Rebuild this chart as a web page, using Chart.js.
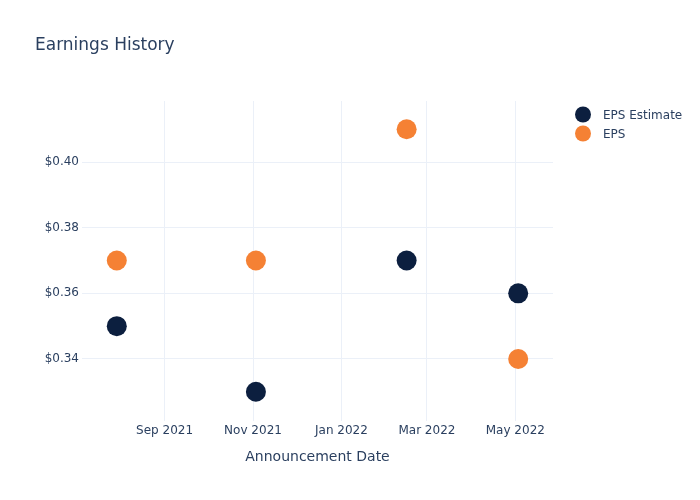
<!DOCTYPE html>
<html lang="en">
  <head>
    <meta charset="UTF-8" />
    <title>Earnings History</title>
    <script src="https://cdn.jsdelivr.net/npm/chart.js"></script>
    <style>
      body { margin: 0; background: #fff; }
      .wrap { position: relative; width: 700px; height: 500px; }
    </style>
  </head>
  <body>
    <div class="wrap"><canvas id="myChart" width="700" height="500"></canvas></div>

    <script>
      "use strict";
      // data
      const dates = ["2021-07-30", "2021-11-03", "2022-02-15", "2022-05-03"];
      const epsEstimate = [0.35, 0.33, 0.37, 0.36];
      const eps = [0.37, 0.37, 0.41, 0.34];
      const xTickDates = ["2021-09-01", "2021-11-01", "2022-01-01", "2022-03-01", "2022-05-01"];
      const yTicks = [0.34, 0.36, 0.38, 0.4];

      const MONTHS = ["Jan", "Feb", "Mar", "Apr", "May", "Jun", "Jul", "Aug", "Sep", "Oct", "Nov", "Dec"];
      const dayNum = (s) => Date.parse(s + "T00:00:00Z") / 864e5;
      const fmtDay = (d) => {
        const dt = new Date(d * 864e5);
        return MONTHS[dt.getUTCMonth()] + " " + dt.getUTCFullYear();
      };

      const textColor = "#2a3f5f";
      const gridColor = "#ebf0f8";
      const font = "'DejaVu Sans', 'Open Sans', sans-serif";

      const toPoints = (vals) => vals.map((v, i) => ({ x: dayNum(dates[i]), y: v }));

      // title + legend drawn in the plotly spots
      const decor = {
        id: "decor",
        afterDraw(chart) {
          const c = chart.ctx;
          c.save();
          c.fillStyle = textColor;
          c.textBaseline = "middle";
          c.textAlign = "left";
          c.font = "17px " + font;
          c.fillText("Earnings History", 35, 46);
          c.font = "12px " + font;
          chart.data.datasets.forEach((ds, i) => {
            const y = 114.5 + i * 19;
            c.beginPath();
            c.arc(583, y, 8, 0, Math.PI * 2);
            c.fillStyle = ds.backgroundColor;
            c.fill();
            c.fillStyle = textColor;
            c.fillText(ds.label, 603, y + 1);
          });
          c.restore();
        },
      };

      new Chart(document.getElementById("myChart").getContext("2d"), {
        type: "scatter",
        data: {
          datasets: [
            {
              label: "EPS Estimate",
              data: toPoints(epsEstimate),
              backgroundColor: "#0c1f3f",
              borderWidth: 0,
              pointRadius: 10,
            },
            {
              label: "EPS",
              data: toPoints(eps),
              backgroundColor: "#f58134",
              borderWidth: 0,
              pointRadius: 10,
            },
          ],
        },
        options: {
          responsive: false,
          animation: false,
          layout: { padding: { top: 101, right: 147, left: 0, bottom: 30 } },
          scales: {
            x: {
              type: "linear",
              min: dayNum("2021-07-06"),
              max: dayNum("2022-05-27"),
              afterBuildTicks: (scale) => {
                scale.ticks = xTickDates.map((d) => ({ value: dayNum(d) }));
              },
              afterFit: (scale) => {
                scale.height = 49;
              },
              ticks: {
                callback: (v) => fmtDay(v),
                color: textColor,
                font: { family: font, size: 12 },
                padding: 3,
                maxRotation: 0,
                autoSkip: false,
              },
              grid: { color: gridColor, drawTicks: false },
              border: { display: false },
              title: {
                display: true,
                text: "Announcement Date",
                color: textColor,
                font: { family: font, size: 14 },
                padding: { top: 12 },
              },
            },
            y: {
              min: 0.3211,
              max: 0.4186,
              afterBuildTicks: (scale) => {
                scale.ticks = yTicks.map((v) => ({ value: v }));
              },
              afterFit: (scale) => {
                scale.width = 82;
              },
              ticks: {
                callback: (v) => "$" + v.toFixed(2),
                color: textColor,
                font: { family: font, size: 12 },
                padding: 3,
              },
              grid: { color: gridColor, drawTicks: false },
              border: { display: false },
            },
          },
          plugins: {
            legend: { display: false },
            tooltip: { enabled: false },
          },
        },
        plugins: [decor],
      });
    </script>
  </body>
</html>
